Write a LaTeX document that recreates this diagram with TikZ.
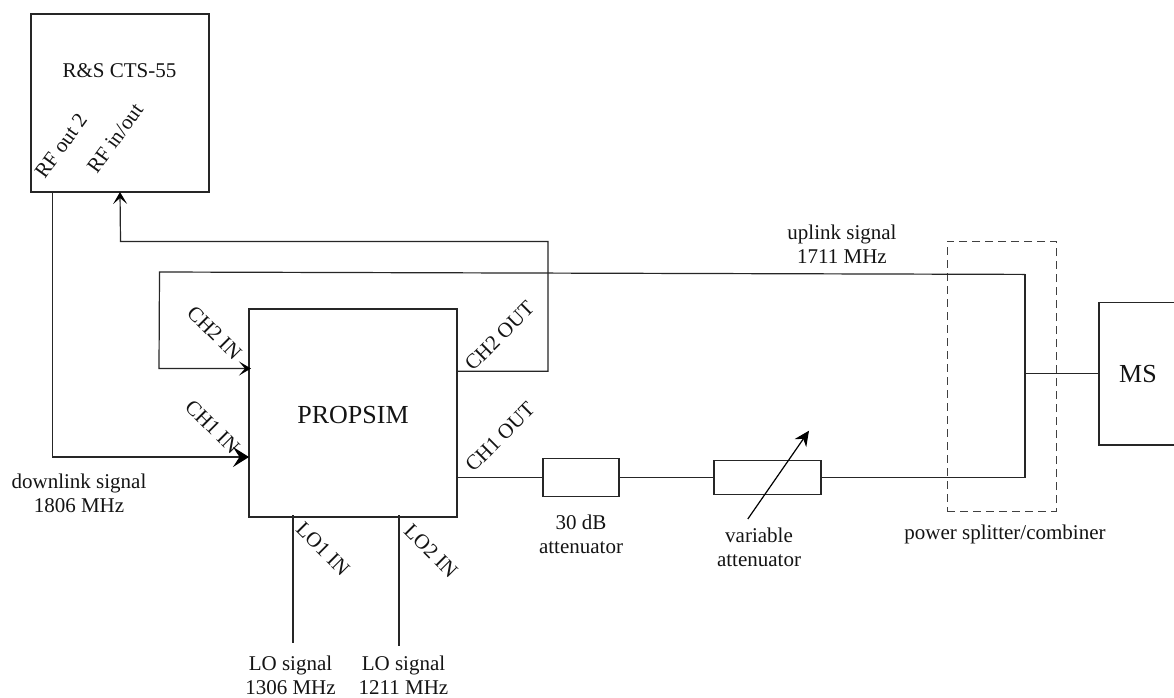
\documentclass[tikz,border=0pt]{standalone}
\usepackage{fontspec}
\setmainfont{Liberation Serif}
\usetikzlibrary{arrows.meta,calc}
\tikzset{
  x=1pt,y=-1pt,
  boxnode/.style={draw=black!85,line width=1.2pt,inner sep=0pt,outer sep=0pt,rectangle},
  wire/.style={draw=black!85,line width=1.2pt,line join=miter},
  lbl/.style={inner sep=0pt,align=center,text=black!92,font=\fontsize{21}{24}\selectfont},
  port/.style={inner sep=0pt,text=black!92,font=\fontsize{21}{24}\selectfont},
  big/.style={inner sep=0pt,text=black!92,font=\fontsize{26}{30}\selectfont},
  smallhead/.style={-{Stealth[length=12pt,width=14pt,inset=6pt,black]}},
  bighead/.style={-{Stealth[length=16pt,width=20pt,inset=6.5pt,black]}},
  varhead/.style={-{Stealth[length=15pt,width=14pt,inset=5pt,black]}},
}
\begin{document}
\begin{tikzpicture}
\useasboundingbox (0,0) rectangle (1174,697);
\fill[white] (0,0) rectangle (1174,697);
% boxes
\node[boxnode,minimum width=178pt,minimum height=178pt] (cts) at (120,103) {};
\node[boxnode,minimum width=208pt,minimum height=208pt] (prop) at (353,413) {};
\node[boxnode,minimum width=76pt,minimum height=38pt] (att) at (581,477.5) {};
\node[boxnode,minimum width=107pt,minimum height=34pt] (var) at (767.5,477.5) {};
\node[boxnode,draw=black!75,dashed,dash pattern=on 8pt off 5pt,line width=1pt,minimum width=109pt,minimum height=270pt] (split) at (1001.5,376) {};
% free ends / corners
\coordinate (rfout) at (52.5,192);
\coordinate (rfin) at (120,192);
\coordinate (ch1in) at (249,457);
\coordinate (ch2in) at (251,368.5);
\coordinate (ch2out) at (457,371.3);
\coordinate (ch1out) at (457,477.5);
\coordinate (c1) at (52.5,457);
\coordinate (c2) at (159,368.5);
\coordinate (c3) at (159.5,272);
\coordinate (c4) at (1025,274.4);
\coordinate (c5) at (1025,477.5);
\coordinate (c6) at (548,371.3);
\coordinate (c7) at (548,241.5);
\coordinate (c8) at (120.5,241.5);
\coordinate (jn) at (1025,373.7);
\coordinate (msw) at (1099,373.7);
\coordinate (mst) at (1174,302.7);
\coordinate (msb) at (1174,445);
\coordinate (lo1a) at (293,515);
\coordinate (lo1b) at (293,643);
\coordinate (lo2a) at (399,515);
\coordinate (lo2b) at (399,646);
\coordinate (va) at (747.8,519);
\coordinate (vb) at (809,430.7);
% MS box, open at the picture edge
\draw[wire] (mst) -- (1099,302.7) -- (1099,445) -- (msb);
% connectors
\draw[wire,bighead] (rfout) -- (c1) -- (ch1in);
\draw[wire,smallhead] (c4) -- (c3) -- (c2) -- (ch2in);
\draw[wire,smallhead] (ch2out) -- (c6) -- (c7) -- (c8) -- (rfin);
\draw[wire] (c4) -- (c5) -- (var.east);
\draw[wire] (jn) -- (msw);
\draw[wire] (ch1out) -- (att.west);
\draw[wire] (att.east) -- (var.west);
\draw[wire] (lo1a) -- (lo1b);
\draw[wire] (lo2a) -- (lo2b);
\draw[draw=black,line width=1.2pt,varhead] (va) -- (vb);
% labels
\node[lbl] (tcts) at (119.5,71) {R\&S CTS-55};
\node[lbl,rotate=54] (trfo) at (61,146) {RF out 2};
\node[lbl,rotate=54] (trfi) at (115,138.5) {RF in/out};
\node[big] (tprop) at (353,415) {PROPSIM};
\node[big] (tms) at (1138,374) {MS};
\node[port,rotate=-45] (tc2i) at (214.5,333) {CH2 IN};
\node[port,rotate=-45] (tc1i) at (212.5,427) {CH1 IN};
\node[port,rotate=45] (tc2o) at (499.5,336) {CH2 OUT};
\node[port,rotate=45] (tc1o) at (500,437) {CH1 OUT};
\node[port,rotate=-45] (tl1) at (323,549) {LO1 IN};
\node[port,rotate=-45] (tl2) at (431,551) {LO2 IN};
\node[lbl] (tdown) at (79,493) {downlink signal\\1806 MHz};
\node[lbl] (tlo1) at (290.5,675) {LO signal\\1306 MHz};
\node[lbl] (tlo2) at (403.5,675) {LO signal\\1211 MHz};
\node[lbl] (tup) at (842,244.5) {uplink signal\\1711 MHz};
\node[lbl] (tatt) at (581,534) {30 dB\\attenuator};
\node[lbl] (tvar) at (759,547) {variable\\attenuator};
\node[lbl] (tspl) at (1005,534) {power splitter/combiner};
\end{tikzpicture}
\end{document}
